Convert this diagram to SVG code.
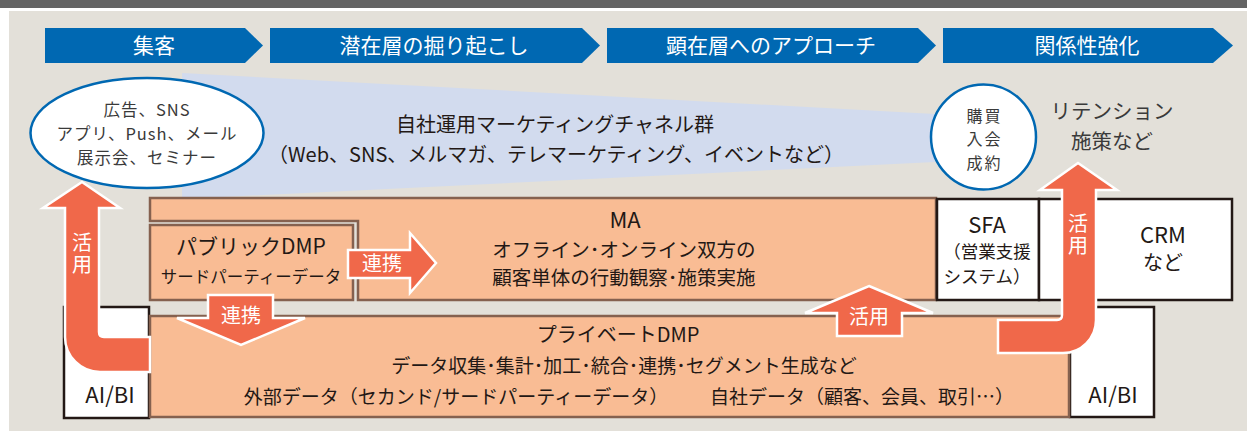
<svg xmlns="http://www.w3.org/2000/svg" width="1247" height="431" viewBox="0 0 1247 431">
<style>
text{font-family:"Noto Sans CJK JP","Noto Sans",sans-serif;text-anchor:middle;fill:#231815}
.ban{fill:#0068b2}
.bt{fill:#fff;font-size:21px}
.org{fill:#f9bc94;stroke:#85614f;stroke-width:2.5}
.wb{fill:#fff;stroke:#231815;stroke-width:2.5}
.arr{fill:#f0684a;stroke:#fff;stroke-width:2.5;stroke-linejoin:miter}
.at{fill:#fff;font-size:20px}
.vt{fill:#fff;font-size:20px;writing-mode:tb;letter-spacing:2px;text-anchor:start}
.g{fill:#3a3a3a}
</style>
<rect x="0" y="0" width="1247" height="431" fill="#fff"/>
<rect x="0" y="0" width="1247" height="8" fill="#646464"/>
<rect x="9" y="11" width="1238" height="420" fill="#e3e0d9"/>

<g id="banner">
<polygon class="ban" points="45,28 245,28 263,45.5 245,63 45,63"/>
<polygon class="ban" points="270,28 582,28 600,45.5 582,63 270,63"/>
<polygon class="ban" points="607,28 918,28 936,45.5 918,63 607,63"/>
<polygon class="ban" points="943,28 1213,28 1233,45.5 1213,63 943,63"/>
<text class="bt" x="154" y="53">集客</text>
<text class="bt" x="434" y="53">潜在層の掘り起こし</text>
<text class="bt" x="771" y="53">顕在層へのアプローチ</text>
<text class="bt" x="1087" y="53">関係性強化</text>
</g>

<g id="channels">
<polygon points="182,73 935,114 935,162 182,199" fill="#d2dbee"/>
<text font-size="20"><tspan x="555" y="132">自社運用マーケティングチャネル群</tspan><tspan x="556" y="162">（Web、SNS、メルマガ、テレマーケティング、イベントなど）</tspan></text>
</g>

<g id="ad-ellipse">
<ellipse cx="147" cy="133" rx="116.5" ry="55" fill="#fff" stroke="#0068b2" stroke-width="2.5"/>
<text class="g" font-size="16.5" letter-spacing="1"><tspan x="147" y="115.5">広告、SNS</tspan><tspan x="147" y="139.5">アプリ、Push、メール</tspan><tspan x="147" y="163.5">展示会、セミナー</tspan></text>
</g>

<g id="purchase-circle">
<circle cx="983.5" cy="137" r="52.5" fill="#fff" stroke="#0068b2" stroke-width="2.5"/>
<text class="g" font-size="16" letter-spacing="2"><tspan x="984.5" y="121.5">購買</tspan><tspan x="984.5" y="145">入会</tspan><tspan x="984.5" y="168.5">成約</tspan></text>
</g>

<g id="retention">
<text class="g" font-size="20.5"><tspan x="1112" y="119">リテンション</tspan><tspan x="1112" y="149">施策など</tspan></text>
</g>

<g id="ma">
<polygon class="org" points="150,198 936,198 936,300 358,300 358,221 150,221"/>
<text x="625" y="228" font-size="22">MA</text>
<text font-size="19.5"><tspan x="624" y="257">オフライン･オンライン双方の</tspan><tspan x="624" y="285">顧客単体の行動観察･施策実施</tspan></text>
</g>

<g id="public-dmp">
<rect class="org" x="150" y="225" width="203" height="75"/>
<text x="251" y="254" font-size="21">パブリックDMP</text>
<text x="251" y="283" font-size="16.5">サードパーティーデータ</text>
</g>

<g id="sfa">
<rect class="wb" x="937" y="199" width="102" height="101"/>
<text x="987" y="233" font-size="22">SFA</text>
<text font-size="17.5"><tspan x="987" y="258">（営業支援</tspan><tspan x="987" y="283">システム）</tspan></text>
</g>

<g id="crm">
<rect class="wb" x="1039" y="199" width="193" height="101"/>
<text x="1163" y="243" font-size="22">CRM</text>
<text x="1163" y="270" font-size="20">など</text>
</g>

<g id="aibi-left">
<rect class="wb" x="64" y="307" width="85" height="111"/>
<text x="110" y="403" font-size="22">AI/BI</text>
</g>

<g id="aibi-right">
<rect class="wb" x="1070" y="307" width="84" height="110"/>
<text x="1113" y="403" font-size="22">AI/BI</text>
</g>

<g id="private-dmp">
<rect class="org" x="150" y="316" width="919" height="101"/>
<text x="618" y="342" font-size="20">プライベートDMP</text>
<text x="624" y="373" font-size="19">データ収集･集計･加工･統合･連携･セグメント生成など</text>
<text x="456" y="404" font-size="19">外部データ（セカンド/サードパーティーデータ）</text>
<text x="862" y="404" font-size="19">自社データ（顧客、会員、取引…）</text>
</g>

<g id="connectors">
<path class="arr" d="M82,182 L120,208 L99,208 L99,332 Q99,337 104,337 L150,337 L150,372 L100,372 A35,35 0 0 1 65,337 L65,208 L43,208 Z"/>
<text class="vt" x="82" y="232">活用</text>
<path class="arr" d="M1078,163 L1117,190 L1096,190 L1096,320 A33,33 0 0 1 1063,353 L998,353 L998,320 L1057,320 Q1062,320 1062,315 L1062,190 L1040,190 Z"/>
<text class="vt" x="1078" y="213">活用</text>
<polygon class="arr" points="348,250 410,250 410,233 436,263 410,293 410,278 348,278"/>
<text class="at" x="382" y="271">連携</text>
<polygon class="arr" points="208,295 273,295 273,318 305,318 241,345 177,318 208,318"/>
<text class="at" x="241" y="323">連携</text>
<polygon class="arr" points="869,286 933,313 902,313 902,336 837,336 837,313 805,313"/>
<text class="at" x="869" y="324">活用</text>
</g>
</svg>
